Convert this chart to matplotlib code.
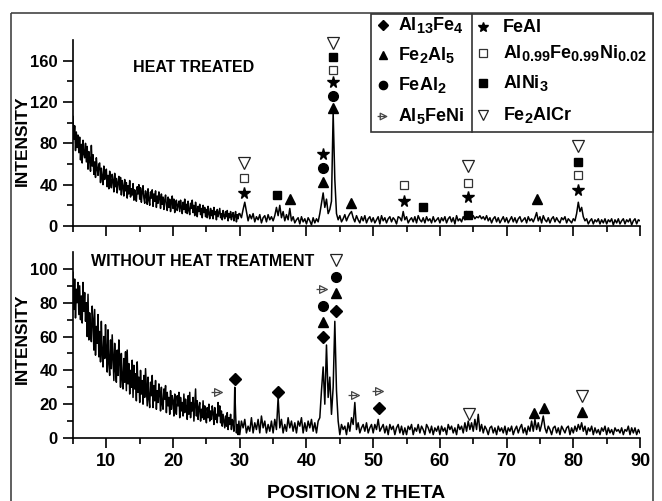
import numpy as np
import matplotlib
matplotlib.use('Agg')
import matplotlib.pyplot as plt
from matplotlib.path import Path
from matplotlib.patches import Rectangle

try:
    import matplotlib._mathtext as _mt
    _mt.SHRINK_FACTOR = 0.8   # larger subscripts, like the original legend
except Exception:
    pass

plt.rcParams['font.family'] = ['Liberation Sans', 'DejaVu Sans']
plt.rcParams['font.weight'] = 'bold'
plt.rcParams['mathtext.fontset'] = 'custom'
plt.rcParams['mathtext.rm'] = 'Liberation Sans:bold'
plt.rcParams['mathtext.it'] = 'Liberation Sans:bold'
plt.rcParams['mathtext.bf'] = 'Liberation Sans:bold'
plt.rcParams['mathtext.default'] = 'rm'

# scan grid: 0.125 deg steps up to 30, then 0.25 deg steps
two_theta = np.concatenate([np.arange(5.0, 30.0, 0.125), np.arange(30.0, 90.01, 0.25)])

# heat treated pattern
heat_treated = [
    106, 84, 97, 73, 91, 76, 88, 71,
    86, 64, 79, 61, 83, 70, 66, 80,
    62, 77, 55, 72, 64, 53, 78, 58,
    69, 50, 62, 47, 66, 55, 49, 60,
    61, 42, 56, 47, 40, 58, 45, 52,
    55, 38, 49, 36, 53, 43, 37, 50,
    44, 33, 51, 38, 46, 32, 42, 48,
    35, 47, 30, 44, 38, 29, 45, 34,
    42, 27, 39, 31, 44, 28, 36, 30,
    41, 25, 35, 29, 24, 38, 31, 40,
    26, 37, 23, 33, 39, 27, 22, 34,
    30, 21, 36, 25, 20, 33, 27, 35,
    19, 31, 24, 34, 18, 29, 22, 33,
    27, 17, 31, 21, 28, 16, 25, 30,
    20, 15, 28, 18, 26, 14, 23, 29,
    17, 26, 13, 22, 25, 15, 20, 24,
    14, 25, 18, 12, 23, 16, 26, 13,
    21, 12, 24, 15, 11, 22, 17, 25,
    13, 20, 10, 23, 15, 9, 19, 14,
    21, 11, 17, 8, 20, 13, 18, 9,
    16, 8, 19, 12, 7, 17, 10, 15,
    7, 18, 11, 14, 6, 16, 9, 13,
    17, 8, 12, 6, 15, 10, 7, 14,
    9, 15, 5, 12, 8, 14, 6, 11,
    13, 5, 10, 14, 4, 11, 7, 12,
    12, 8, 16, 23, 14, 5, 11, 7, 12, 4, 9, 6, 11, 3, 8, 10, 4, 11, 6, 9,
    5, 10, 18, 10, 20, 8, 14, 5, 11, 6, 17, 5, 9, 3, 6, 8, 2, 9, 4, 7,
    2, 8, 5, 1, 8, 3, 7, 4, 12, 22, 32, 18, 26, 12, 16, 24, 110, 45, 12, 6,
    10, 4, 7, 11, 5, 9, 12, 14, 8, 4, 10, 6, 3, 9, 5, 10, 3, 7, 9, 4,
    8, 3, 6, 9, 2, 10, 5, 8, 3, 7, 9, 4, 8, 6, 2, 9, 8, 5, 14, 6,
    9, 3, 6, 8, 4, 9, 3, 10, 6, 4, 8, 3, 9, 5, 7, 3, 9, 4, 6, 8,
    3, 8, 5, 9, 3, 7, 9, 4, 8, 2, 10, 5, 7, 4, 9, 6, 14, 11, 8, 7,
    10, 7, 9, 8, 10, 7, 9, 6, 10, 5, 8, 3, 7, 9, 4, 8, 3, 6, 9, 4,
    8, 3, 6, 9, 4, 8, 3, 7, 9, 4, 6, 8, 3, 9, 5, 7, 4, 8, 13, 5,
    9, 3, 10, 6, 4, 8, 3, 7, 9, 4, 8, 5, 3, 8, 6, 9, 3, 7, 5, 3,
    7, 5, 12, 23, 14, 18, 9, 5, 7, 2, 5, 7, 2, 6, 4, 7, 2, 6, 3, 7,
    2, 6, 4, 7, 1, 6, 3, 7, 2, 5, 7, 2, 6, 4, 7, 1, 5, 7, 2, 6,
    5,
]

# without heat treatment pattern
no_treatment = [
    98, 76, 94, 71, 88, 80, 92, 73,
    90, 70, 84, 68, 92, 75, 86, 69,
    80, 60, 85, 58, 74, 64, 57, 78,
    70, 52, 76, 49, 66, 56, 73, 48,
    63, 45, 69, 50, 42, 60, 47, 67,
    52, 39, 64, 44, 37, 58, 41, 61,
    48, 34, 56, 40, 33, 52, 37, 58,
    45, 30, 50, 35, 29, 47, 33, 51,
    28, 52, 32, 44, 26, 40, 30, 46,
    24, 43, 29, 38, 22, 45, 27, 36,
    21, 40, 26, 34, 20, 37, 24, 41,
    30, 19, 36, 23, 18, 33, 25, 37,
    18, 31, 22, 34, 17, 28, 21, 32,
    26, 16, 30, 20, 17, 29, 23, 31,
    15, 27, 19, 24, 14, 28, 17, 25,
    22, 13, 26, 17, 14, 25, 19, 27,
    12, 24, 16, 21, 13, 26, 15, 23,
    18, 11, 25, 14, 27, 12, 21, 16,
    24, 10, 19, 29, 13, 22, 11, 18,
    21, 10, 17, 12, 22, 11, 19, 13,
    9, 18, 12, 20, 10, 16, 11, 19,
    15, 8, 18, 11, 14, 9, 21, 13,
    19, 9, 16, 7, 14, 10, 6, 13,
    7, 15, 5, 12, 8, 14, 5, 11,
    9, 4, 30, 14, 3, 8, 2, 10,
    2, 10, 6, 11, 3, 7, 4, 12, 3, 9, 5, 11, 3, 13, 6, 10, 3, 8, 4, 10,
    3, 11, 5, 24, 6, 11, 3, 8, 4, 12, 6, 10, 4, 9, 3, 10, 7, 12, 3, 9,
    4, 10, 6, 11, 4, 9, 3, 10, 12, 28, 42, 20, 55, 24, 36, 14, 30, 69, 28, 10,
    2, 8, 5, 7, 2, 9, 4, 12, 8, 21, 5, 9, 3, 6, 8, 4, 9, 3, 6, 8,
    3, 8, 5, 11, 4, 6, 8, 3, 7, 2, 8, 5, 7, 2, 6, 8, 3, 7, 2, 6,
    2, 7, 5, 8, 2, 6, 4, 8, 3, 7, 5, 2, 8, 6, 3, 7, 2, 6, 4, 7,
    2, 7, 4, 6, 2, 8, 5, 7, 3, 6, 2, 8, 5, 7, 3, 9, 4, 10, 5, 9,
    4, 11, 5, 14, 4, 8, 3, 7, 5, 2, 6, 7, 3, 6, 2, 7, 4, 6, 3, 7,
    2, 6, 4, 7, 2, 5, 7, 3, 6, 8, 3, 6, 2, 7, 4, 10, 4, 11, 5, 9,
    4, 8, 13, 6, 3, 7, 5, 2, 6, 7, 3, 6, 2, 7, 5, 3, 6, 7, 2, 6,
    3, 7, 4, 8, 5, 9, 4, 7, 2, 6, 4, 7, 2, 6, 3, 5, 2, 6, 4, 7,
    2, 6, 3, 5, 2, 6, 4, 5, 3, 6, 2, 5, 4, 7, 2, 6, 3, 6, 2, 5,
    3,
]

# phase labels over the peaks
ht_phase = ['FeAl', 'AlFeNi', 'Fe2AlCr', 'AlNi3', 'Fe2Al5',
            'Fe2Al5', 'FeAl2', 'FeAl',
            'Fe2Al5', 'FeAl2', 'FeAl', 'AlFeNi', 'AlNi3', 'Fe2AlCr',
            'Fe2Al5', 'FeAl', 'AlFeNi', 'AlNi3',
            'AlNi3', 'FeAl', 'AlFeNi', 'Fe2AlCr', 'Fe2Al5',
            'FeAl', 'AlFeNi', 'AlNi3', 'Fe2AlCr']
ht_x = [30.6, 30.6, 30.6, 35.6, 37.5,
        42.5, 42.5, 42.5,
        44.0, 44.0, 44.0, 44.0, 44.0, 44.0,
        46.7, 54.6, 54.6, 57.5,
        64.2, 64.2, 64.2, 64.2, 74.6,
        80.7, 80.7, 80.7, 80.7]
ht_y = [32, 46.5, 61, 30, 26,
        43, 56, 70,
        114, 126, 139, 151, 164, 177,
        22, 24, 40, 18,
        11, 28, 42, 58, 26,
        35, 49, 62, 77]

nt_phase = ['Al5FeNi', 'Al13Fe4', 'Al13Fe4',
            'Al13Fe4', 'Fe2Al5', 'FeAl2', 'Al5FeNi',
            'Al13Fe4', 'Fe2Al5', 'FeAl2', 'Fe2AlCr',
            'Al5FeNi', 'Al13Fe4', 'Al5FeNi', 'Fe2AlCr',
            'Fe2Al5', 'Fe2Al5', 'Fe2Al5', 'Fe2AlCr']
nt_x = [26.8, 29.3, 35.7,
        42.5, 42.5, 42.5, 42.5,
        44.4, 44.4, 44.4, 44.4,
        47.3, 50.9, 50.9, 64.4,
        74.1, 75.6, 81.3, 81.3]
nt_y = [27, 35, 27.5,
        60, 68.5, 78, 88,
        75, 86, 95, 105,
        25.6, 18, 28, 14,
        15, 17.5, 15.5, 25]

# arrow-like marker: open triangle with a bar through it
arrow_path = Path([(-0.5, -0.5), (0.5, 0.0), (-0.5, 0.5), (-0.5, -0.5), (-0.9, 0.0), (0.2, 0.0)],
                  [Path.MOVETO, Path.LINETO, Path.LINETO, Path.CLOSEPOLY, Path.MOVETO, Path.LINETO])

styles = {
    'Al13Fe4': dict(marker='D', mfc='black', mec='black', ms=6.5),
    'Fe2Al5': dict(marker='^', mfc='black', mec='black', ms=7.5),
    'FeAl2': dict(marker='o', mfc='black', mec='black', ms=7),
    'Al5FeNi': dict(marker=arrow_path, mfc='none', mec='#444444', ms=10, mew=0.9),
    'FeAl': dict(marker='*', mfc='black', mec='black', ms=8.5),
    'AlFeNi': dict(marker='s', mfc='none', mec='#333333', ms=6, mew=0.9),
    'AlNi3': dict(marker='s', mfc='black', mec='black', ms=6),
    'Fe2AlCr': dict(marker='v', mfc='none', mec='#222222', ms=8.5, mew=0.9),
}

fig = plt.figure(figsize=(6.62, 5.01), dpi=100)
ax1 = fig.add_axes([73 / 662, 1 - 226 / 501, 567 / 662, 186 / 501])
ax2 = fig.add_axes([73 / 662, 1 - 438 / 501, 567 / 662, 186 / 501])

ax1.plot(two_theta, heat_treated, color='black', lw=1.1)
ax2.plot(two_theta, no_treatment, color='black', lw=1.1)

for ax, ph, xs, ys in [(ax1, ht_phase, ht_x, ht_y), (ax2, nt_phase, nt_x, nt_y)]:
    for p, x, y in zip(ph, xs, ys):
        ax.plot(x, y, ls='none', clip_on=False, **styles[p])

ax1.set_ylim(0, 180)
ax2.set_ylim(0, 110)
for ax in (ax1, ax2):
    ax.set_xlim(5, 90)
    ax.spines['top'].set_visible(False)
    ax.spines['right'].set_visible(False)
    ax.spines['left'].set_linewidth(1.2)
    ax.spines['bottom'].set_linewidth(1.2)
    ax.set_xticks(np.arange(10, 91, 10))
    ax.set_xticks(np.arange(5, 91, 10), minor=True)
    ax.tick_params(axis='both', which='major', direction='out', length=7, width=1.2, pad=4)
    ax.tick_params(axis='both', which='minor', direction='out', length=4, width=1.2)
    ax.tick_params(axis='y', labelsize=12)
    ax.tick_params(axis='x', labelsize=13)

ax1.set_yticks([0, 40, 80, 120, 160])
ax1.set_yticks([20, 60, 100, 140], minor=True)
ax1.tick_params(axis='x', labelbottom=False)
ax2.set_yticks([0, 20, 40, 60, 80, 100])
ax2.set_yticks([10, 30, 50, 70, 90], minor=True)

ax1.text(14.0, 153.5, 'HEAT TREATED', fontsize=11.5, fontweight='bold', va='center', ha='left')
ax2.text(7.7, 104.5, 'WITHOUT HEAT TREATMENT', fontsize=11.5, fontweight='bold', va='center', ha='left')

# overlay in pixel coordinates for frame, legend and axis titles
ov = fig.add_axes([0, 0, 1, 1])
ov.set_xlim(0, 662)
ov.set_ylim(501, 0)
ov.set_axis_off()
ov.add_patch(Rectangle((11, 13), 642, 500, fill=False, ec='#444444', lw=1.2, clip_on=False))
ov.text(22.5, 141, 'INTENSITY', rotation=90, fontsize=12.5, fontweight='bold', ha='center', va='center')
ov.text(22.5, 339, 'INTENSITY', rotation=90, fontsize=12.5, fontweight='bold', ha='center', va='center')
ov.text(356, 494, 'POSITION 2 THETA', fontsize=14, fontweight='bold', ha='center', va='center')

# legend box
ov.add_patch(Rectangle((371, 14), 282, 118, fill=True, fc='white', ec='#333333', lw=1.2))
ov.plot([472, 472], [14, 132], color='#333333', lw=1.2)
leg_left = [('Al13Fe4', r'$Al_{13}Fe_{4}$', 25), ('Fe2Al5', r'$Fe_{2}Al_{5}$', 55),
            ('FeAl2', r'$FeAl_{2}$', 85), ('Al5FeNi', r'$Al_{5}FeNi$', 116)]
leg_right = [('FeAl', 'FeAl', 27), ('AlFeNi', r'$Al_{0.99}Fe_{0.99}Ni_{0.02}$', 53),
             ('AlNi3', r'$AlNi_{3}$', 83), ('Fe2AlCr', r'$Fe_{2}AlCr$', 115)]
for key, lab, y in leg_left:
    st = dict(styles[key])
    st['ms'] = st['ms'] * 0.85
    ov.plot(383, y, ls='none', **st)
    ov.text(398, y, lab, fontsize=13, fontweight='bold', va='center', ha='left')
for key, lab, y in leg_right:
    st = dict(styles[key])
    st['ms'] = st['ms'] * 0.85
    ov.plot(483, y, ls='none', **st)
    ov.text(503, y, lab, fontsize=13, fontweight='bold', va='center', ha='left')

fig.savefig('out.png', dpi=100)
